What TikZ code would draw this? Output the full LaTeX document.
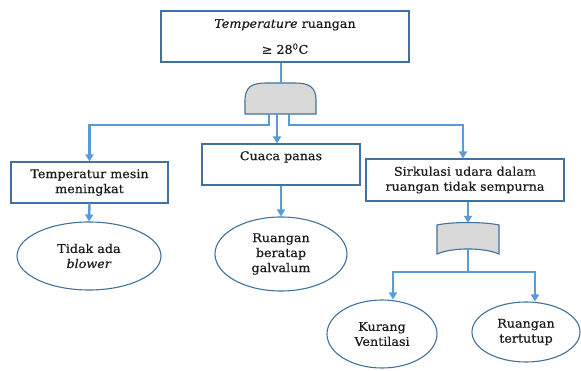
\documentclass[tikz,border=0pt]{standalone}
\usepackage{fontspec}
\setmainfont[FakeStretch=1.06,FakeBold=0.4]{DejaVu Serif}
\usetikzlibrary{arrows.meta,shapes.geometric}
\definecolor{edgeblue}{HTML}{5B9BD5}
\definecolor{framecol}{HTML}{41719C}
\definecolor{gatefill}{HTML}{D9D9D9}
\definecolor{inkcol}{HTML}{1A1A1A}

\tikzset{
  every node/.style={font=\fontsize{12}{15}\selectfont, text=inkcol},
  box/.style={draw=framecol, line width=1.1pt, rectangle, inner sep=0pt, align=center},
  oval/.style={draw=framecol, line width=1.1pt, ellipse, inner sep=0pt, align=center},
  gatenode/.style={inner sep=0pt, minimum width=#1},
  link/.style={draw=edgeblue, line width=2.4pt},
  arrowlink/.style={link, -{Triangle[width=8pt,length=7pt]}},
  gatebody/.style={draw=framecol, fill=gatefill, line width=1.1pt},
}

\begin{document}
\begin{tikzpicture}[x=1pt,y=-1pt]
\useasboundingbox (0,0) rectangle (581,371);

% top event
\node[box, minimum width=248pt, minimum height=51pt] (top) at (285,36.5)
  {\textit{Temperature} ruangan\\[11pt] ≥ 28\textsuperscript{0}C};

% AND gate
\node[gatenode=71pt, minimum height=31pt] (g1) at (280.5,98.5) {};
\draw[gatebody] (245,114) -- (245,100) .. controls (245,87) and (252,83) .. (266,83)
  -- (295,83) .. controls (309,83) and (316,87) .. (316,100) -- (316,114) -- cycle;

% intermediate events
\node[box, minimum width=157pt, minimum height=41pt] (b1) at (89.5,182.5)
  {Temperatur mesin\\meningkat};
\node[box, minimum width=158pt, minimum height=41pt] (b2) at (281,164.5)
  {Cuaca panas\\\phantom{g}};
\node[box, minimum width=198pt, minimum height=42pt] (b3) at (465,180)
  {Sirkulasi udara dalam\\ruangan tidak sempurna};

% basic events
\node[oval, minimum width=144pt, minimum height=68pt] (e1) at (89,256)
  {Tidak ada\\\textit{blower}};
\node[oval, minimum width=132pt, minimum height=74pt] (e2) at (281,254)
  {Ruangan\\beratap\\galvalum};

% OR gate
\node[gatenode=62pt, minimum height=31pt] (g2) at (468,238.5) {};
\draw[gatebody] (437,254) -- (437,225) .. controls (452,221.7) and (484,221.7) .. (499,225)
  -- (499,254) .. controls (484,247.3) and (452,247.3) .. (437,254) -- cycle;

\node[oval, minimum width=110pt, minimum height=68pt] (e3) at (382,334)
  {Kurang\\Ventilasi};
\node[oval, minimum width=108pt, minimum height=60pt] (e4) at (526,332)
  {Ruangan\\tertutup};

% connectors
\draw[link, line width=2pt] (top.south -| g1.north) -- (g1.north);
\draw[arrowlink] ([xshift=-11.5pt]g1.south) -- ++(0,11) -| (b1.north);
\draw[arrowlink] ([xshift=-3.5pt]g1.south) -- ([xshift=-3.5pt]g1.south |- b2.north);
\draw[arrowlink] ([xshift=8.5pt]g1.south) -- ++(0,11) -| ([xshift=-2pt]b3.north);

\draw[arrowlink] (b1.south) -- (e1.north);
\draw[arrowlink] (b2.south) -- (e2.north);
\draw[arrowlink] (b3.south -| g2.north) -- (g2.north);

\draw[link, line width=1.2pt] ([yshift=5pt]g2.south) -- ++(0,23) coordinate (j);
\draw[arrowlink, line width=2pt] (j) -| ([xshift=11pt]e3.north);
\draw[arrowlink, line width=2pt] (j) -| ([xshift=9pt]e4.north);
\end{tikzpicture}
\end{document}
